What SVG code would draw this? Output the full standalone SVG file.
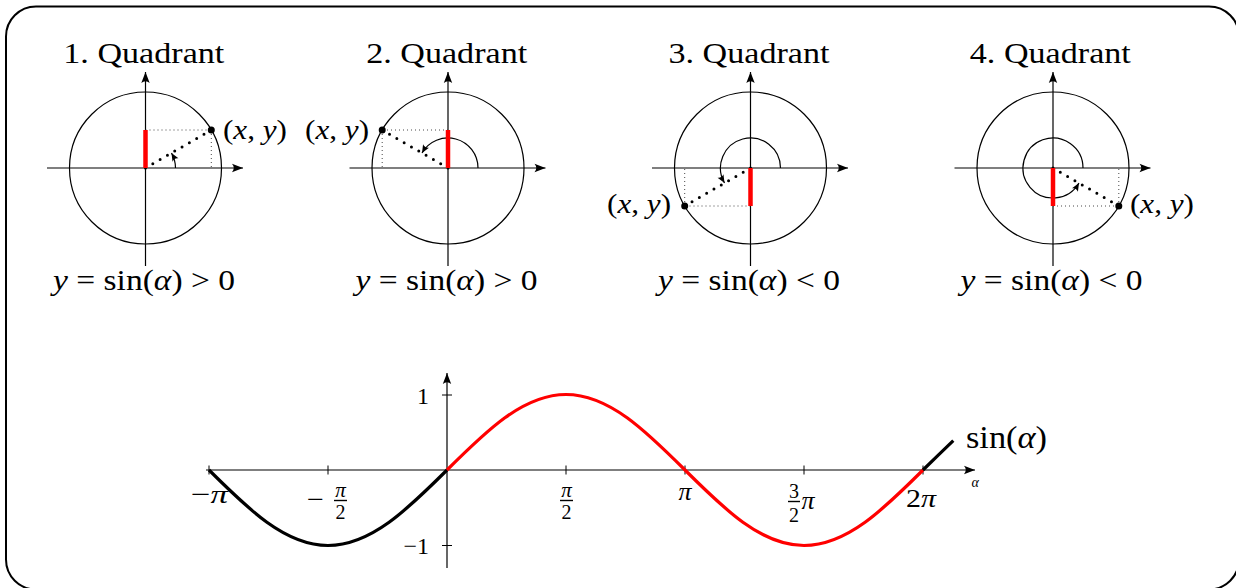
<svg xmlns="http://www.w3.org/2000/svg" width="1236" height="588" viewBox="0 0 1236 588">
<style>
text { font-family: "Liberation Serif", "DejaVu Serif", serif; fill: #000; }
.i { font-style: italic; }
.ax { fill: none; stroke: #000; stroke-width: 1.2; }
.circ { fill: none; stroke: #000; stroke-width: 1.2; }
.red { stroke: #ff0000; stroke-width: 4.5; fill: none; }
.dots { fill: none; stroke: #000; stroke-width: 3; stroke-dasharray: 0 8.44; stroke-linecap: round; }
.thin { fill: none; stroke: #333; stroke-width: 0.9; stroke-dasharray: 1 3; }
.arc { fill: none; stroke: #000; stroke-width: 1.2; }
.curveB { fill: none; stroke: #000; stroke-width: 3.2; }
.curveR { fill: none; stroke: #ff0000; stroke-width: 3.2; }
.tick { stroke: #000; stroke-width: 1; }
.bar { stroke: #000; stroke-width: 1.4; }
</style>
<defs>
<marker id="ah" markerUnits="userSpaceOnUse" markerWidth="14" markerHeight="10" refX="12" refY="5" orient="auto" viewBox="0 0 14 10">
<path d="M12,5 L1,0.8 Q4.5,5 1,9.2 Z" fill="#000"/>
</marker>
<marker id="ahs" markerUnits="userSpaceOnUse" markerWidth="10" markerHeight="8" refX="9" refY="4" orient="auto" viewBox="0 0 10 8">
<path d="M9,4 L1,0.6 Q3.5,4 1,7.4 Z" fill="#000"/>
</marker>
</defs>

<rect id="frame" x="6" y="6.5" width="1233" height="583" rx="30" ry="30" fill="none" stroke="#000" stroke-width="2"/>

<g id="q1" transform="translate(145.5,168)">
<circle class="circ" cx="0" cy="0" r="76"/>
<path class="ax" d="M-98.5,0 H97.5" marker-end="url(#ah)"/>
<path class="ax" d="M0,98 V-96" marker-end="url(#ah)"/>
<path class="thin" d="M0,-38 H65.8 M65.8,-38 V0"/>
<path class="dots" d="M0,0 L65.8,-38"/>
<path class="arc" d="M30,0 A30,30 0 0 0 25.98,-15" marker-end="url(#ahs)"/>
<path class="red" d="M0,0 V-38"/>
<circle cx="65.8" cy="-38" r="3.5" fill="#000"/>
<text x="-1.7" y="-105" font-size="29" text-anchor="middle" textLength="161" lengthAdjust="spacingAndGlyphs">1. Quadrant</text>
<text x="77.5" y="-29" font-size="28" textLength="64" lengthAdjust="spacingAndGlyphs">(<tspan class="i">x</tspan>, <tspan class="i">y</tspan>)</text>
<text x="-1.5" y="122" font-size="29" text-anchor="middle" textLength="182" lengthAdjust="spacingAndGlyphs"><tspan class="i">y</tspan> = sin(<tspan class="i">α</tspan>) &gt; 0</text>
</g>

<g id="q2" transform="translate(448,168)">
<circle class="circ" cx="0" cy="0" r="76"/>
<path class="ax" d="M-98.5,0 H97.5" marker-end="url(#ah)"/>
<path class="ax" d="M0,98 V-96" marker-end="url(#ah)"/>
<path class="thin" d="M0,-38 H-65.8 M-65.8,-38 V0"/>
<path class="dots" d="M0,0 L-65.8,-38"/>
<path class="arc" d="M30,0 A30,30 0 0 0 -25.98,-15" marker-end="url(#ahs)"/>
<path class="red" d="M0,0 V-38"/>
<circle cx="-65.8" cy="-38" r="3.5" fill="#000"/>
<text x="-1.3" y="-105" font-size="29" text-anchor="middle" textLength="161" lengthAdjust="spacingAndGlyphs">2. Quadrant</text>
<text x="-143" y="-29" font-size="28" textLength="64" lengthAdjust="spacingAndGlyphs">(<tspan class="i">x</tspan>, <tspan class="i">y</tspan>)</text>
<text x="-1.5" y="122" font-size="29" text-anchor="middle" textLength="182" lengthAdjust="spacingAndGlyphs"><tspan class="i">y</tspan> = sin(<tspan class="i">α</tspan>) &gt; 0</text>
</g>

<g id="q3" transform="translate(750.5,168)">
<circle class="circ" cx="0" cy="0" r="76"/>
<path class="ax" d="M-98.5,0 H97.5" marker-end="url(#ah)"/>
<path class="ax" d="M0,98 V-96" marker-end="url(#ah)"/>
<path class="thin" d="M0,38 H-65.8 M-65.8,38 V0"/>
<path class="dots" d="M0,0 L-65.8,38"/>
<path class="arc" d="M30,0 A30,30 0 1 0 -25.98,15" marker-end="url(#ahs)"/>
<path class="red" d="M0,0 V38"/>
<circle cx="-65.8" cy="38" r="3.5" fill="#000"/>
<text x="-1.5" y="-105" font-size="29" text-anchor="middle" textLength="161" lengthAdjust="spacingAndGlyphs">3. Quadrant</text>
<text x="-143.5" y="45" font-size="28" textLength="64" lengthAdjust="spacingAndGlyphs">(<tspan class="i">x</tspan>, <tspan class="i">y</tspan>)</text>
<text x="-1.5" y="122" font-size="29" text-anchor="middle" textLength="182" lengthAdjust="spacingAndGlyphs"><tspan class="i">y</tspan> = sin(<tspan class="i">α</tspan>) &lt; 0</text>
</g>

<g id="q4" transform="translate(1053,168)">
<circle class="circ" cx="0" cy="0" r="76"/>
<path class="ax" d="M-98.5,0 H97.5" marker-end="url(#ah)"/>
<path class="ax" d="M0,98 V-96" marker-end="url(#ah)"/>
<path class="thin" d="M0,38 H65.8 M65.8,38 V0"/>
<path class="dots" d="M0,0 L65.8,38"/>
<path class="arc" d="M30,0 A30,30 0 1 0 25.98,15" marker-end="url(#ahs)"/>
<path class="red" d="M0,0 V38"/>
<circle cx="65.8" cy="38" r="3.5" fill="#000"/>
<text x="-2.7" y="-105" font-size="29" text-anchor="middle" textLength="161" lengthAdjust="spacingAndGlyphs">4. Quadrant</text>
<text x="77" y="45" font-size="28" textLength="64" lengthAdjust="spacingAndGlyphs">(<tspan class="i">x</tspan>, <tspan class="i">y</tspan>)</text>
<text x="-1.5" y="122" font-size="29" text-anchor="middle" textLength="182" lengthAdjust="spacingAndGlyphs"><tspan class="i">y</tspan> = sin(<tspan class="i">α</tspan>) &lt; 0</text>
</g>

<g id="plot">
<g id="plot-axes">
<path class="ax" d="M206,470 H975" marker-end="url(#ah)"/>
<path class="ax" d="M447,568 V373" marker-end="url(#ah)"/>
<path class="tick" d="M209,465.5 V474.5 M328,465.5 V474.5 M566,465.5 V474.5 M685,465.5 V474.5 M804,465.5 V474.5 M923,465.5 V474.5 M442,395 H452 M442,545.5 H452"/>
</g>
<path class="curveB" d="M209,470 C247.81,508.68 284.93,545.5 328,545.5 C371.07,545.5 408.19,508.68 447,470"/>
<path class="curveR" d="M447,470 C485.81,431.32 522.93,394.5 566,394.5 C609.07,394.5 646.19,431.32 685,470 C723.81,508.68 760.93,545.5 804,545.5 C847.07,545.5 884.19,508.68 923,470"/>
<path class="curveB" d="M923,470 Q938.2,455.1 953.3,440.6"/>
<text x="191" y="503" font-size="26" textLength="37" lengthAdjust="spacingAndGlyphs">−<tspan class="i">π</tspan></text>
<text x="307" y="507.5" font-size="26" textLength="17" lengthAdjust="spacingAndGlyphs">−</text>
<text x="340.5" y="497" font-size="21" text-anchor="middle" class="i">π</text>
<path class="bar" d="M334,500.5 H347"/>
<text x="340.5" y="518.5" font-size="20" text-anchor="middle">2</text>
<text x="566.5" y="497" font-size="21" text-anchor="middle" class="i">π</text>
<path class="bar" d="M560,500.5 H573"/>
<text x="566.5" y="518.5" font-size="20" text-anchor="middle">2</text>
<text x="685" y="500" font-size="26" text-anchor="middle" class="i">π</text>
<text x="794" y="498" font-size="20" text-anchor="middle">3</text>
<path class="bar" d="M788,501.5 H800"/>
<text x="794" y="522" font-size="20" text-anchor="middle">2</text>
<text x="801.5" y="509" font-size="26" class="i">π</text>
<text x="906" y="507" font-size="26" textLength="30" lengthAdjust="spacingAndGlyphs">2<tspan class="i">π</tspan></text>
<text x="971.5" y="487" font-size="14" class="i">α</text>
<text x="966" y="448" font-size="31" textLength="81" lengthAdjust="spacingAndGlyphs">sin(<tspan class="i">α</tspan>)</text>
<text x="429" y="403.5" font-size="24" text-anchor="end">1</text>
<text x="429" y="553.5" font-size="24" text-anchor="end">−1</text>
</g>
</svg>
